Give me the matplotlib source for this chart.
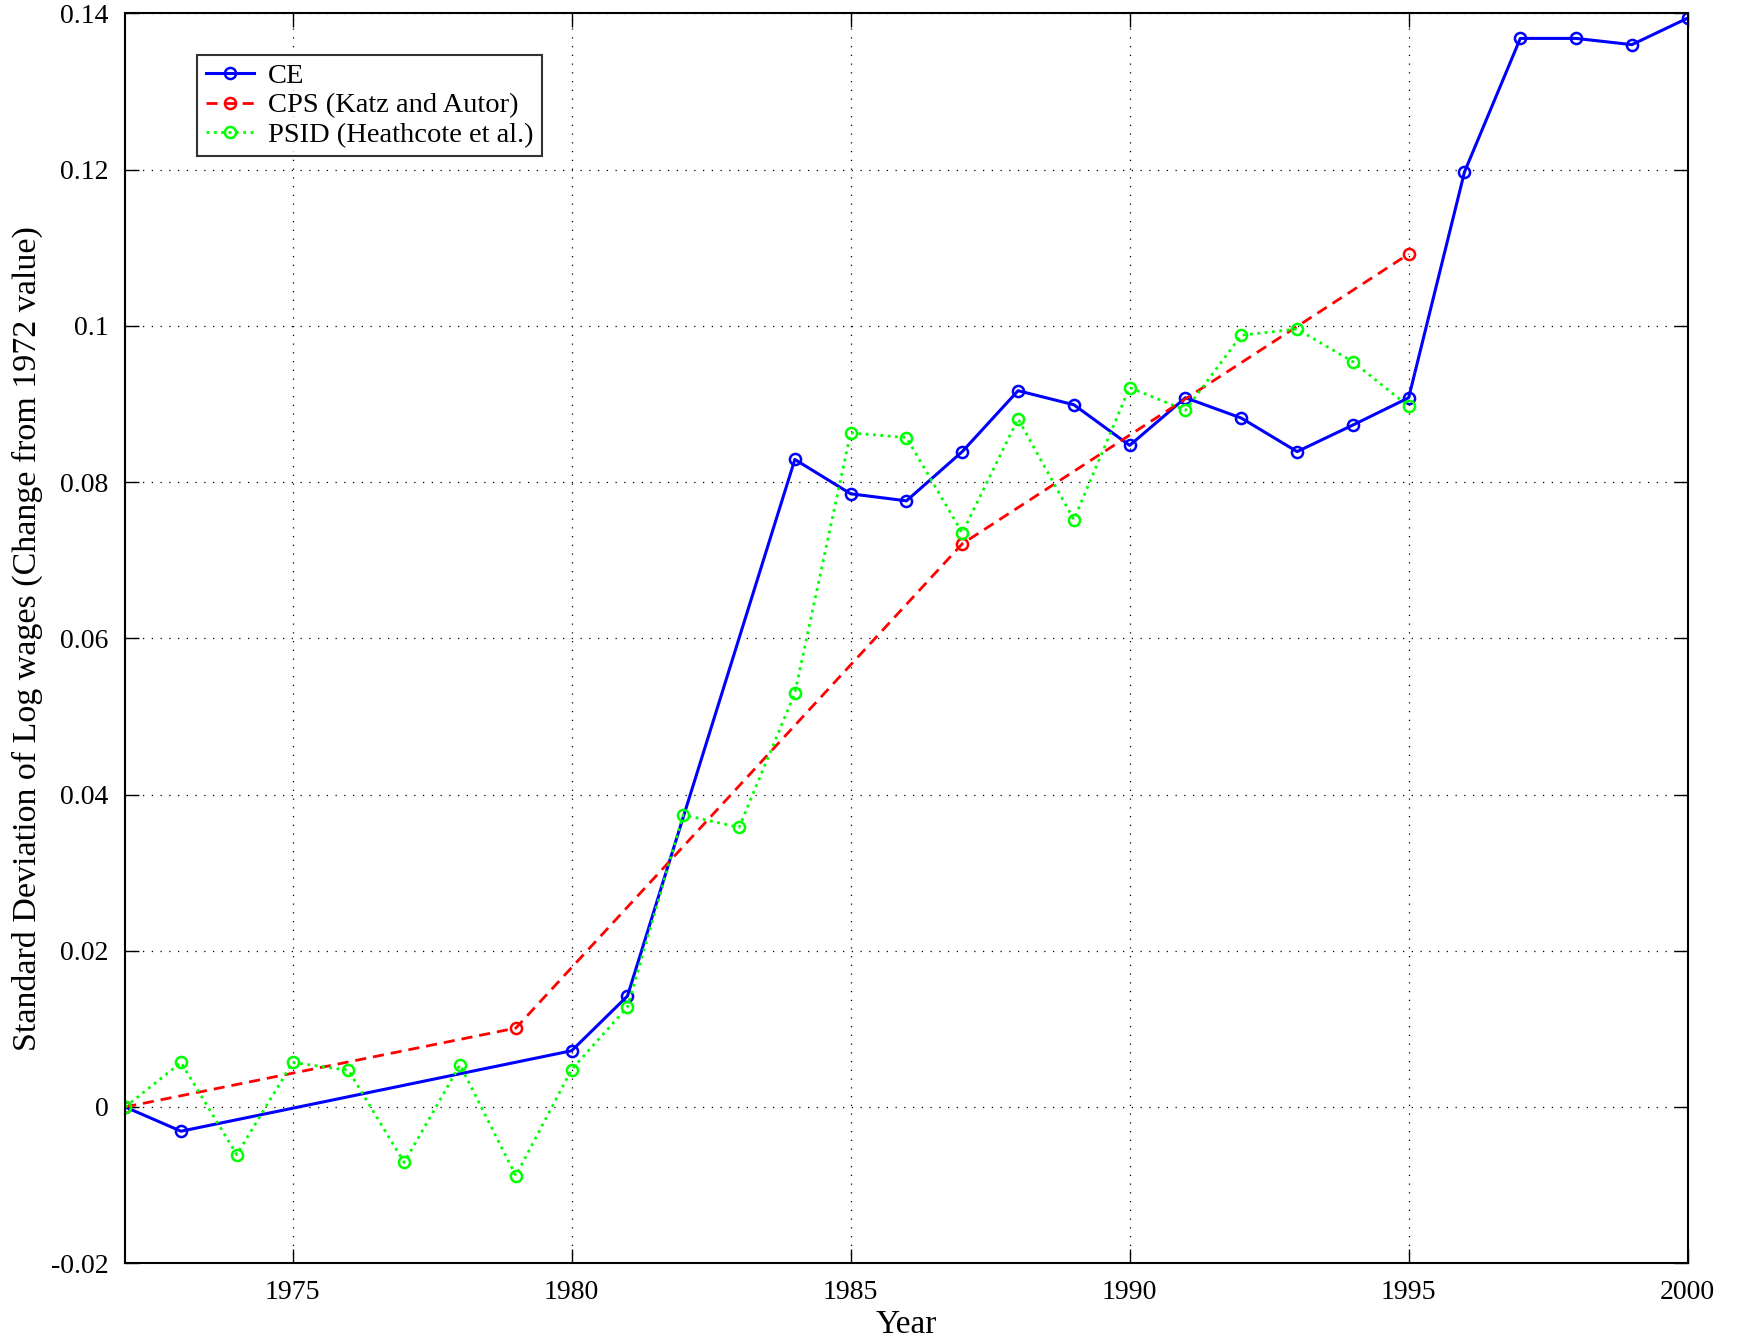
import numpy as np
import matplotlib
matplotlib.use("Agg")
import matplotlib.pyplot as plt

plt.rcParams['font.family'] = ['Liberation Serif', 'DejaVu Serif']

# CE series
ce_years = [1972, 1973, 1980, 1981, 1984, 1985, 1986, 1987, 1988, 1989, 1990,
            1991, 1992, 1993, 1994, 1995, 1996, 1997, 1998, 1999, 2000]
ce_vals = [0.0, -0.0031, 0.0072, 0.0142, 0.0829, 0.0785, 0.0776, 0.0839, 0.0917,
           0.0899, 0.0847, 0.0908, 0.0882, 0.0839, 0.0873, 0.0908, 0.1197,
           0.1368, 0.1368, 0.1360, 0.1394]

# CPS (Katz and Autor)
cps_years = [1972, 1979, 1987, 1995]
cps_vals = [0.0, 0.0101, 0.0721, 0.1092]

# PSID (Heathcote et al.)
psid_years = list(range(1972, 1996))
psid_vals = [0.0, 0.0057, -0.0061, 0.0057, 0.0047, -0.0071, 0.0054, -0.0088,
             0.0048, 0.0128, 0.0374, 0.0358, 0.0530, 0.0863, 0.0857, 0.0735,
             0.0881, 0.0752, 0.0921, 0.0892, 0.0988, 0.0996, 0.0954, 0.0897]

x_ticks = [1975, 1980, 1985, 1990, 1995, 2000]
y_ticks = [-0.02, 0, 0.02, 0.04, 0.06, 0.08, 0.1, 0.12, 0.14]
y_labels = ['-0.02', '0', '0.02', '0.04', '0.06', '0.08', '0.1', '0.12', '0.14']

fig = plt.figure(figsize=(17.39, 13.41), dpi=100)
ax = fig.add_axes([0.072, 0.058, 0.8985, 0.932])

mk = dict(marker='o', markersize=8, markerfacecolor='none', markeredgewidth=1.8)
ax.plot(ce_years, ce_vals, '-', color='#0000ff', lw=2.2, label='CE', **mk)
ax.plot(cps_years, cps_vals, '--', color='#ff0000', lw=2.0, dashes=(4, 2.5),
        label='CPS (Katz and Autor)', **mk)
ax.plot(psid_years, psid_vals, ':', color='#00ff00', lw=2.0,
        label='PSID (Heathcote et al.)', **mk)

ax.set_xlim(1972, 2000)
ax.set_ylim(-0.02, 0.14)
ax.set_xticks(x_ticks)
ax.set_yticks(y_ticks)
ax.set_yticklabels(y_labels)

ax.grid(True, color='black', linestyle=(0, (1, 6)), linewidth=0.9)
ax.tick_params(direction='in', length=10, width=1, labelsize=20,
               top=True, right=True, pad=12)
for s in ax.spines.values():
    s.set_linewidth(1.5)

ax.set_xlabel('Year', fontsize=24, labelpad=3)
ax.set_ylabel('Standard Deviation of Log wages (Change from 1972 value)', fontsize=24.5, labelpad=6)

leg = ax.legend(loc='upper left', bbox_to_anchor=(0.046, 0.967), fontsize=20.5,
                frameon=True, fancybox=False, edgecolor='black', borderpad=0.3,
                labelspacing=0.12, handlelength=1.7, handletextpad=0.5,
                borderaxespad=0)
leg.get_frame().set_linewidth(1.5)

fig.savefig('out.png', dpi=100)
